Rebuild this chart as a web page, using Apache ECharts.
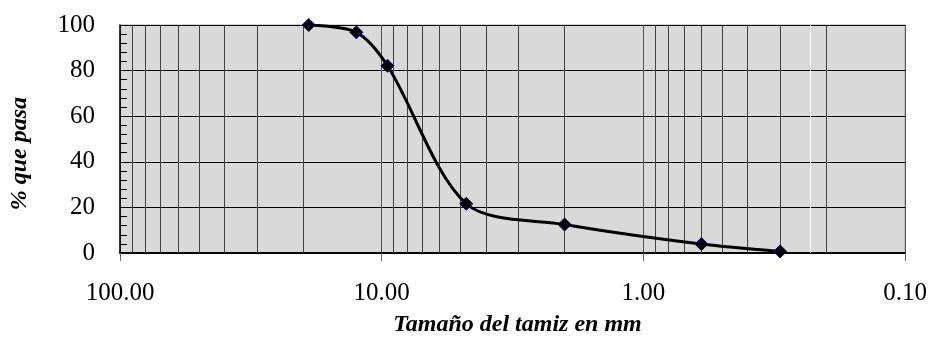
<!DOCTYPE html>
<html><head><meta charset="utf-8">
<script src="https://cdn.jsdelivr.net/npm/echarts@6/dist/echarts.min.js"></script>
<style>html,body{margin:0;padding:0;background:#fff}#c{width:930px;height:338px}</style>
</head><body><div id="c"></div>
<script>
const sizes = [19.0, 12.5, 9.5, 4.75, 2.0, 0.6, 0.3];
const passing = [100, 96.8, 82.1, 21.6, 12.5, 3.9, 0.7];
const minorGrid = [90,80,70,60,50,40,30,20, 9,8,7,6,5,4,3,2, 0.9,0.8,0.7,0.6,0.5,0.4,0.3,0.2];
const whiteLine = [0.228];
const xLabel = 'Tamaño del tamiz en mm';
const yLabel = '% que pasa';

const font = '"Liberation Serif", "Times New Roman", serif';
const chart = echarts.init(document.getElementById('c'), null, {renderer: 'canvas'});
chart.setOption({
  animation: false,
  grid: {left: 120, right: 25, top: 25, bottom: 85, show: true, backgroundColor: '#d9d9d9', borderColor: '#a6a6a6', borderWidth: 1, outerBoundsMode: 'none', containLabel: false},
  graphic: [{
    type: 'text', left: 8, top: 97, rotation: Math.PI / 2,
    style: {text: yLabel, font: 'italic bold 24px ' + font, fill: '#000'}
  }],
  xAxis: {
    type: 'log', logBase: 10, min: 0.1, max: 100, inverse: true,
    name: xLabel, nameLocation: 'middle', nameGap: 60,
    nameTextStyle: {fontFamily: font, fontSize: 24, fontWeight: 'bold', fontStyle: 'italic', color: '#000', padding: [0, 0, 0, 10]},
    axisLine: {show: true, lineStyle: {color: '#000', width: 2}},
    axisTick: {show: true, length: 8, lineStyle: {color: '#666', width: 1}},
    axisLabel: {fontFamily: font, fontSize: 25, color: '#000', margin: 28, formatter: v => Number(v).toFixed(2)},
    splitLine: {show: true, lineStyle: {color: '#505050', width: 1}},
    minorTick: {show: false}, minorSplitLine: {show: false}
  },
  yAxis: {
    type: 'value', min: 0, max: 100, interval: 20,
    axisLine: {show: true, lineStyle: {color: '#000', width: 1.5}},
    axisTick: {show: true, inside: true, length: 8, lineStyle: {color: '#000'}},
    minorTick: {show: true, splitNumber: 5, length: 7, lineStyle: {color: '#000'}},
    axisLabel: {fontFamily: font, fontSize: 25, color: '#000', margin: 25},
    splitLine: {show: true, lineStyle: {color: '#000', width: 1}}
  },
  series: [
    {
      type: 'line', silent: true, data: [], symbol: 'none',
      markLine: {
        silent: true, symbol: 'none', label: {show: false},
        data: minorGrid.map(v => ({xAxis: v, lineStyle: {color: '#404040', width: 1, type: 'solid'}}))
          .concat(whiteLine.map(v => ({xAxis: v, lineStyle: {color: '#ffffff', width: 1, type: 'solid'}})))
      }
    },
    {
      type: 'line', smooth: 0.3,
      data: sizes.map((s, i) => [s, passing[i]]),
      lineStyle: {color: '#000', width: 3},
      symbol: 'diamond', symbolSize: 13,
      itemStyle: {color: '#000', borderColor: '#000080', borderWidth: 1},
      z: 5
    }
  ]
});
</script></body></html>
